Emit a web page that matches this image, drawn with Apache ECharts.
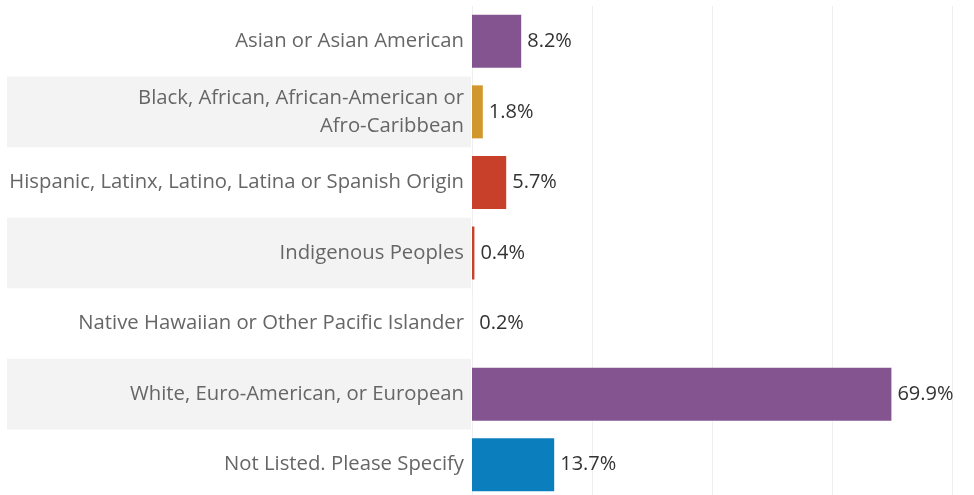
<!DOCTYPE html>
<html>
<head>
<meta charset="utf-8">
<script src="https://cdn.jsdelivr.net/npm/echarts@6/dist/echarts.min.js"></script>
<style>
  html, body { margin: 0; padding: 0; background: #fff; }
  #chart { width: 974px; height: 495px; }
</style>
</head>
<body>
<div id="chart"></div>
<script>
// categories top to bottom
const categories = [
  'Asian or Asian American',
  'Black, African, African-American or\nAfro-Caribbean',
  'Hispanic, Latinx, Latino, Latina or Spanish Origin',
  'Indigenous Peoples',
  'Native Hawaiian or Other Pacific Islander',
  'White, Euro-American, or European',
  'Not Listed. Please Specify'
];
const percents = [8.2, 1.8, 5.7, 0.4, 0.2, 69.9, 13.7];
const barColors = ['#845491', '#d1972c', '#c8402a', '#c8402a', '#f2f2f2', '#845491', '#0b7fbd'];
const xTicks = [0, 20, 40, 60, 80];

const chart = echarts.init(document.getElementById('chart'));

chart.setOption({
  animation: false,
  grid: [
    // row banding behind the labels
    { left: 7, right: 503, top: 6, height: 494, outerBoundsMode: 'none' },
    // bars
    { left: 472, right: 22, top: 6, height: 494, outerBoundsMode: 'none' }
  ],
  xAxis: [
    { gridIndex: 0, type: 'value', show: false },
    {
      gridIndex: 1, type: 'value',
      min: xTicks[0], max: xTicks[xTicks.length - 1], interval: 20,
      axisLabel: { show: false },
      axisLine: { show: false },
      axisTick: { show: false },
      splitLine: { show: true, lineStyle: { color: '#efefef', width: 1 } }
    }
  ],
  yAxis: [
    {
      gridIndex: 0, type: 'category', data: categories, inverse: true,
      axisLine: { show: false }, axisTick: { show: false }, axisLabel: { show: false },
      splitLine: { show: false },
      splitArea: { show: true, areaStyle: { color: ['rgba(255,255,255,0)', '#f3f3f3'] } }
    },
    {
      gridIndex: 1, type: 'category', data: categories, inverse: true,
      axisLine: { show: false }, axisTick: { show: false },
      axisLabel: {
        margin: 8, color: '#666', fontSize: 20.3, fontFamily: 'Open Sans',
        lineHeight: 28, align: 'right'
      }
    }
  ],
  series: [{
    type: 'bar',
    xAxisIndex: 1, yAxisIndex: 1,
    barWidth: 53,
    data: percents.map((v, i) => ({ value: v, itemStyle: { color: barColors[i] } })),
    label: {
      show: true, position: 'right', distance: 6,
      color: '#333', fontSize: 20, fontFamily: 'Open Sans',
      formatter: p => p.value.toFixed(1) + '%'
    }
  }]
});
</script>
</body>
</html>
